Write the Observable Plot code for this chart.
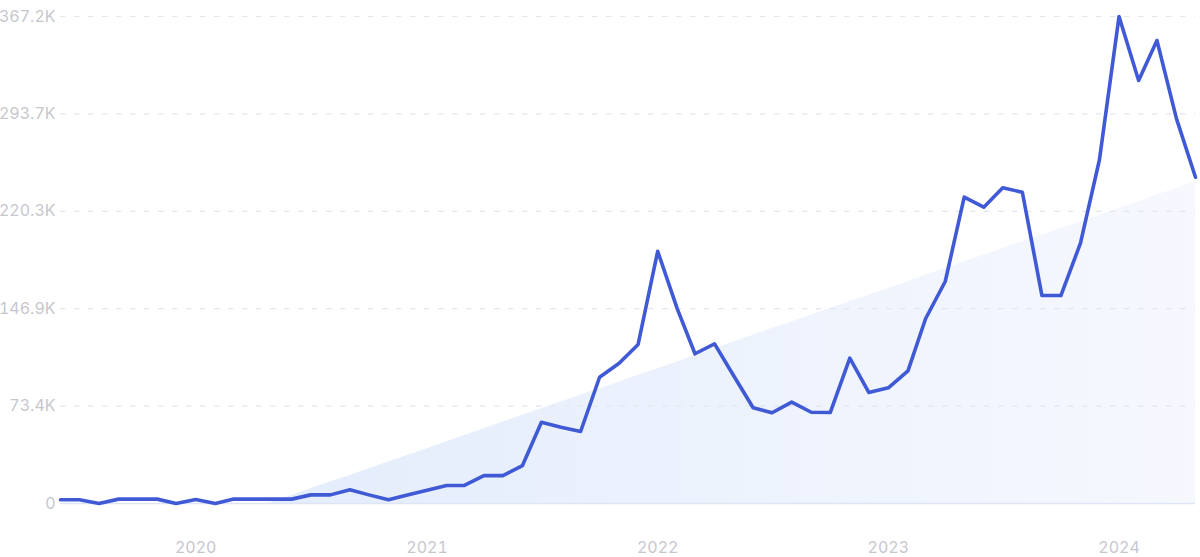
<!DOCTYPE html>
<html>
<head>
<meta charset="utf-8">
<script src="https://cdn.jsdelivr.net/npm/d3@7"></script>
<script src="https://cdn.jsdelivr.net/npm/@observablehq/plot@0.6"></script>
<style>
  html, body { margin: 0; padding: 0; background: #ffffff; }
  #chart { width: 1200px; height: 557px; }
</style>
</head>
<body>
<div id="chart"></div>
<script>
// ---- Data (values in thousands) ----
const months = [
  "2019-06","2019-07","2019-08","2019-09","2019-10","2019-11","2019-12",
  "2020-01","2020-02","2020-03","2020-04","2020-05","2020-06","2020-07","2020-08","2020-09","2020-10","2020-11","2020-12",
  "2021-01","2021-02","2021-03","2021-04","2021-05","2021-06","2021-07","2021-08","2021-09","2021-10","2021-11","2021-12",
  "2022-01","2022-02","2022-03","2022-04","2022-05","2022-06","2022-07","2022-08","2022-09","2022-10","2022-11","2022-12",
  "2023-01","2023-02","2023-03","2023-04","2023-05","2023-06","2023-07","2023-08","2023-09","2023-10","2023-11","2023-12",
  "2024-01","2024-02","2024-03","2024-04","2024-05"
];
const values = [
  2.8, 2.8, 0, 3.3, 3.3, 3.3, 0,
  3.0, 0, 3.3, 3.3, 3.3, 3.3, 6.5, 6.5, 10.3, 6.5, 2.8, 6.4,
  10.0, 13.6, 13.6, 21.0, 21.0, 28.6, 61.3, 57.5, 54.3, 95.2, 105.8, 119.9,
  190.2, 146.8, 112.9, 120.4, 96.5, 72.2, 68.4, 76.4, 68.8, 68.6, 109.6, 83.7,
  87.2, 100.0, 139.5, 167.4, 231.0, 223.4, 238.0, 234.7, 156.8, 156.8, 196.3, 259.2,
  367.2, 319.0, 349.1, 290.0, 246.0
];
const yTicks = [0, 73.44, 146.88, 220.32, 293.76, 367.2];
const yTickLabels = ["0", "73.4K", "146.9K", "220.3K", "293.7K", "367.2K"];
const xTickMonths = ["2020-01", "2021-01", "2022-01", "2023-01", "2024-01"];
const xTickLabels = ["2020", "2021", "2022", "2023", "2024"];

// ---- Derived table ----
const parse = d3.utcParse("%Y-%m");
const data = months.map((m, i) => ({date: parse(m), i, v: values[i]}));
const xTicks = xTickMonths.map(parse);

// Linear trend (least squares) of the series, clipped at zero
const n = data.length;
const mx = d3.mean(data, d => d.i), my = d3.mean(data, d => d.v);
const slope = d3.sum(data, d => (d.i - mx) * (d.v - my)) / d3.sum(data, d => (d.i - mx) ** 2);
const icpt = my - slope * mx;
const i0 = -icpt / slope;
const trend = [];
{
  const lo = Math.floor(i0), hi = Math.ceil(i0);
  if (lo >= 0 && hi < n && hi > lo) {
    const t = data[lo].date.getTime() + (i0 - lo) * (data[hi].date.getTime() - data[lo].date.getTime());
    trend.push({date: new Date(t), v: 0});
  }
  for (const d of data) if (d.i > i0) trend.push({date: d.date, v: icpt + slope * d.i});
}

const xDomain = [data[0].date, data[n - 1].date];

const gradientDefs = () => {
  const defs = d3.create("svg:defs");
  const g = defs.append("linearGradient")
    .attr("id", "trendGrad").attr("x1", "0").attr("x2", "1").attr("y1", "0").attr("y2", "0");
  g.append("stop").attr("offset", "0%").attr("stop-color", "#e4edfc");
  g.append("stop").attr("offset", "100%").attr("stop-color", "#f6f8fe");
  return defs.node();
};

const chart = Plot.plot({
  width: 1200,
  height: 557,
  marginTop: 16,
  marginBottom: 54,
  marginLeft: 60,
  marginRight: 5,
  style: {
    fontFamily: "Inter, 'Noto Sans', sans-serif",
    fontSize: "16px",
    color: "#c6c7ce",
    background: "#ffffff"
  },
  x: {
    type: "utc",
    domain: xDomain,
    ticks: xTicks,
    tickFormat: d => xTickLabels[xTicks.findIndex(t => t.getTime() === d.getTime())],
    tickSize: 0,
    tickPadding: 38,
    label: null
  },
  y: {
    domain: [0, 367.2],
    ticks: yTicks,
    tickFormat: d => yTickLabels[yTicks.indexOf(d)],
    tickSize: 0,
    tickPadding: 5,
    label: null
  },
  marks: [
    gradientDefs,
    Plot.areaY(trend, {x: "date", y: "v", fill: "url(#trendGrad)"}),
    Plot.ruleY(yTicks.filter(d => d > 0), {
      x1: xDomain[0], x2: xDomain[1],
      stroke: "#e2e6ef", strokeWidth: 1.2, strokeDasharray: "5.5,8.5"
    }),
    Plot.ruleY([0], {x1: xDomain[0], x2: xDomain[1], stroke: "#dfe5f5", strokeWidth: 1.5}),
    Plot.lineY(data, {
      x: "date", y: "v",
      stroke: "#4059d5", strokeWidth: 3.6,
      strokeLinejoin: "round", strokeLinecap: "round"
    })
  ]
});

document.getElementById("chart").appendChild(chart);
</script>
</body>
</html>
